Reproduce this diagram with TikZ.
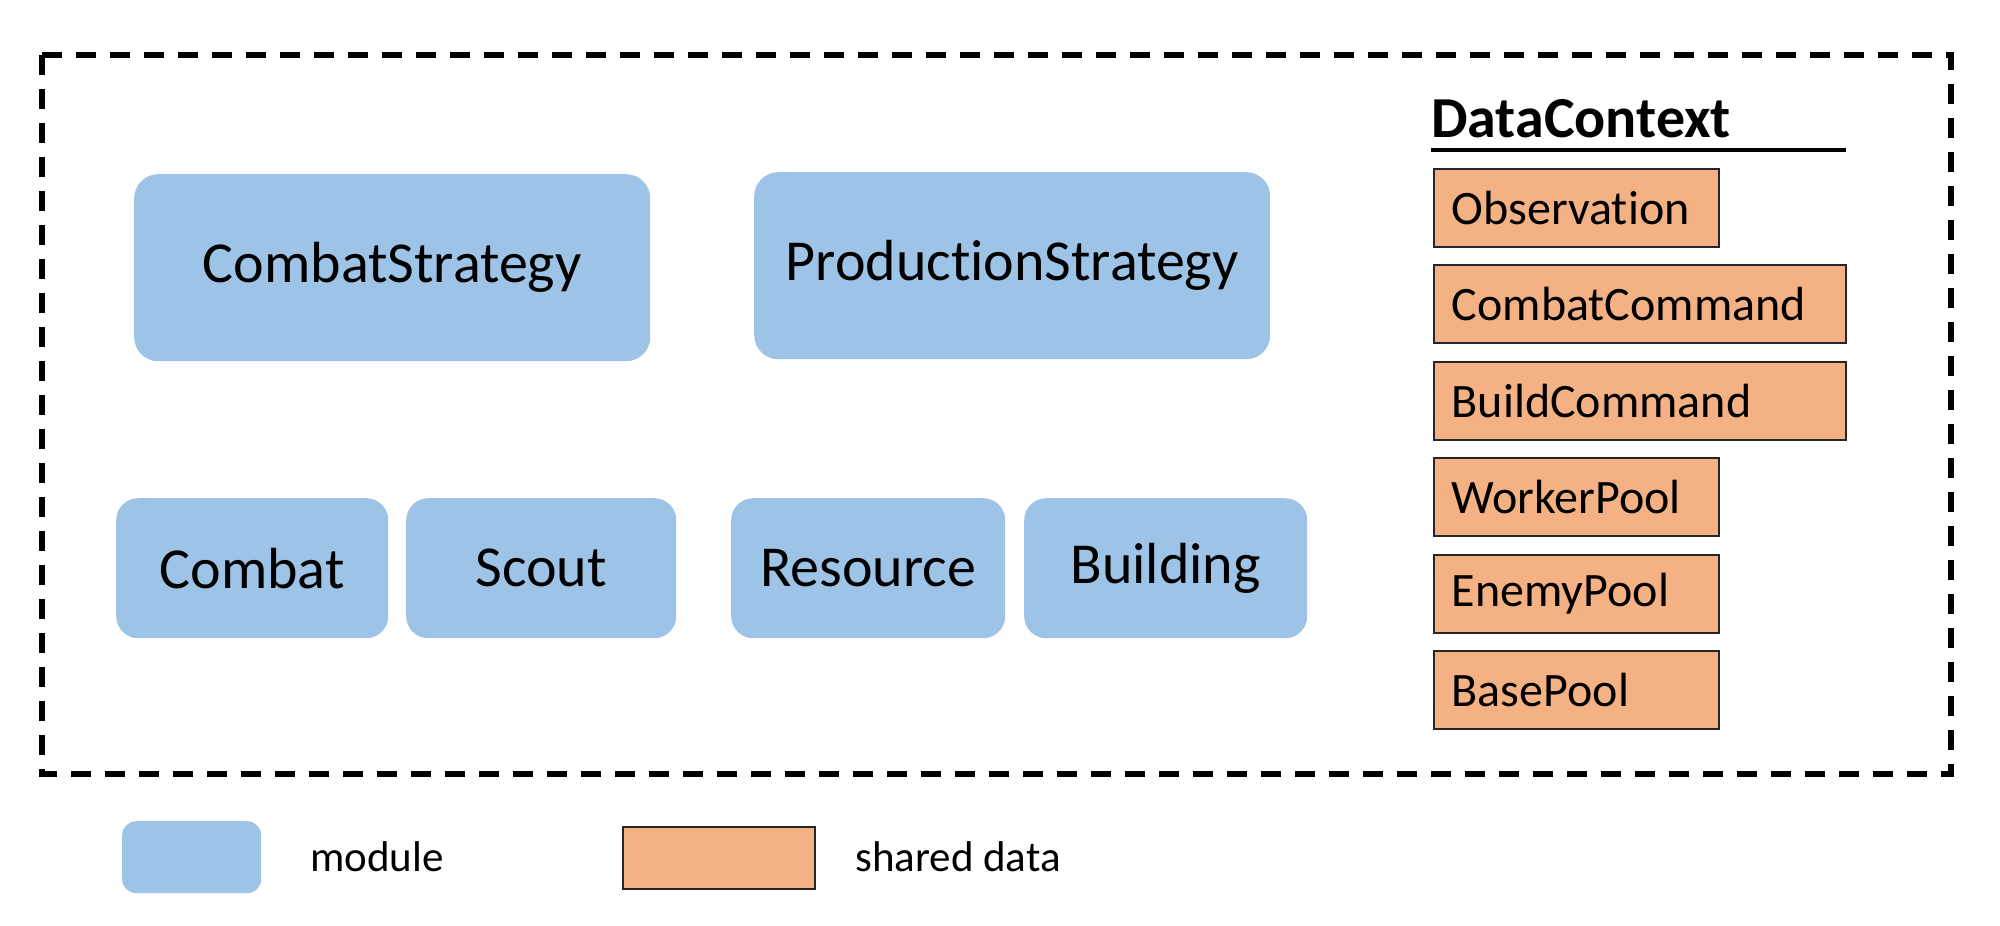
\documentclass[tikz,border=0pt]{standalone}
\usepackage{fontspec}
\setmainfont[Ligatures={NoCommon}]{Carlito}
\definecolor{modblue}{RGB}{157,195,230}
\definecolor{dataorange}{RGB}{244,177,131}
\begin{document}
\begin{tikzpicture}[x=1pt,y=-1pt,
  module/.style={fill=modblue, draw=none, rounded corners=24pt, inner sep=0pt, anchor=north west, font=\fontsize{58}{62}\selectfont},
  smallmod/.style={module, rounded corners=22pt, minimum height=140pt},
  bigmod/.style={module, minimum height=187pt, minimum width=516pt},
  datum/.style={fill=dataorange, draw=black!85, line width=1.6pt, anchor=north west, minimum height=78pt, inner xsep=18pt, inner ysep=0pt, align=left, font=\fontsize{48}{50}\selectfont},
  shortdatum/.style={datum, text width=249pt},
  longdatum/.style={datum, text width=376pt},
  legendtext/.style={anchor=west, inner sep=0pt, font=\fontsize{43}{46}\selectfont},
  frame/.style={draw=black, line width=5.5pt, dash pattern=on 20pt off 14pt}
]
\useasboundingbox (0,0) rectangle (2000,926);
\draw[frame] (42,55) rectangle (1951,774);

\node[bigmod] (cs) at (134,174) {CombatStrategy};
\node[bigmod] (ps) at (754,172) {ProductionStrategy};

\node[smallmod, minimum width=272pt] (combat) at (116,498) {Combat};
\node[smallmod, minimum width=270pt] (scout) at (406,498) {Scout};
\node[smallmod, minimum width=274pt] (resource) at (731,498) {Resource};
\node[smallmod, minimum width=283pt] (building) at (1024,498) {Building};

\node[anchor=base west, inner sep=0pt, font=\fontsize{58}{62}\selectfont\bfseries] (dc) at (1431,137) {DataContext};
\coordinate (ulA) at (1431,150);
\coordinate (ulB) at (1846,150);
\draw[line width=4pt] (ulA) -- (ulB);

\node[shortdatum] (obs) at (1433,168) {Observation};
\node[longdatum] (cc) at (1433,264) {CombatCommand};
\node[longdatum] (bc) at (1433,361) {BuildCommand};
\node[shortdatum] (wp) at (1433,457) {WorkerPool};
\node[shortdatum] (ep) at (1433,554) {EnemyPool};
\node[shortdatum] (bp) at (1433,650) {BasePool};

\node[fill=modblue, rounded corners=14pt, anchor=north west, minimum width=139pt, minimum height=72pt, inner sep=0pt] (legmod) at (122,821) {};
\node[legendtext] (legmodt) at (310,857) {module};
\node[fill=dataorange, draw=black!85, line width=1.6pt, anchor=north west, minimum width=192pt, minimum height=62pt, inner sep=0pt] (legdat) at (622,826) {};
\node[legendtext] (legdatt) at (855,857) {shared data};
\end{tikzpicture}
\end{document}
